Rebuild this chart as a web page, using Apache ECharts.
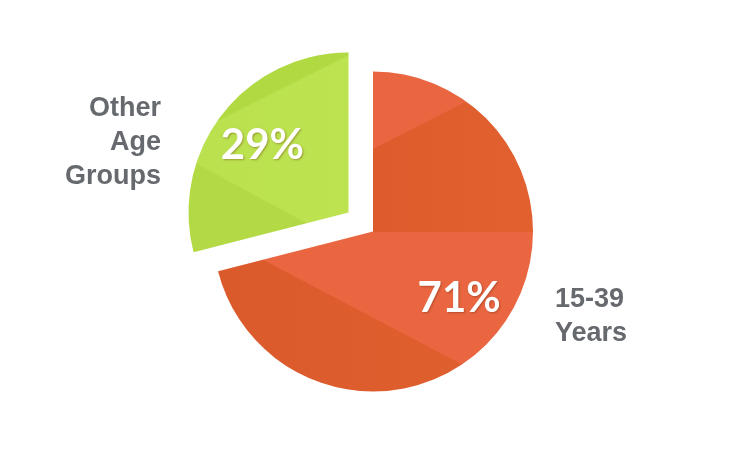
<!DOCTYPE html>
<html>
<head>
<meta charset="utf-8">
<script src="https://cdn.jsdelivr.net/npm/echarts@6/dist/echarts.min.js"></script>
<style>
html,body{margin:0;padding:0;background:#fff;}
#chart{width:748px;height:453px;}
</style>
</head>
<body>
<div id="chart"></div>
<script>
// ---- data ----
var categories = ['15-39\nYears', 'Other\nAge\nGroups'];
var values = [71, 29];
var selectedFlags = [false, true];

// ---- faceted textures (visual shading only) ----
function facetTexture(fx, fy, wedges, base) {
  var c = document.createElement('canvas');
  c.width = 748; c.height = 453;
  var g = c.getContext('2d');
  g.fillStyle = base;
  g.fillRect(0, 0, c.width, c.height);
  var R = 3000;
  wedges.forEach(function (w) {
    var a1 = w[0] * Math.PI / 180, a2 = w[1] * Math.PI / 180;
    g.beginPath();
    g.moveTo(fx, fy);
    var steps = 24;
    for (var i = 0; i <= steps; i++) {
      var a = a1 + (a2 - a1) * i / steps;
      g.lineTo(fx + R * Math.cos(a), fy + R * Math.sin(a));
    }
    g.closePath();
    if (w[3]) {
      var lg = g.createLinearGradient(fx, fy, fx + 330, fy);
      lg.addColorStop(0, w[2]);
      lg.addColorStop(1, w[3]);
      g.fillStyle = lg;
    } else {
      g.fillStyle = w[2];
    }
    g.fill();
  });
  return c;
}

var orangeTex = facetTexture(210, 232, [
  [-27, 0, '#D8562A', '#E2612F'],
  [27.7, 200, '#DB5A2C', '#E0602F']
], '#E96641');

var greenTex = facetTexture(190, 166, [
  [-180, -26.6, '#B1D941'],
  [-26.6, 28.4, '#BAE14D', '#BFE453'],
  [28.4, 180, '#B3DA45']
], '#BAE14C');

var textures = [orangeTex, greenTex];

var mainData = categories.map(function (n, i) {
  return {
    name: n,
    value: values[i],
    selected: selectedFlags[i],
    itemStyle: { color: { image: textures[i], repeat: 'no-repeat' } }
  };
});
var labelData = categories.map(function (n, i) {
  return { name: n, value: values[i], selected: selectedFlags[i] };
});

var nameFont = 'bold 27px Arial, "Liberation Sans", sans-serif';

var chart = echarts.init(document.getElementById('chart'));
chart.setOption({
  animation: false,
  backgroundColor: '#ffffff',
  graphic: [
    {
      type: 'text', x: 555, y: 317, silent: true,
      style: {
        text: categories[0], fill: '#66696E', font: nameFont,
        lineHeight: 34, align: 'left', verticalAlign: 'middle'
      }
    },
    {
      type: 'text', x: 161, y: 143, silent: true,
      style: {
        text: categories[1], fill: '#66696E', font: nameFont,
        lineHeight: 34, align: 'right', verticalAlign: 'middle'
      }
    }
  ],
  series: [
    {
      type: 'pie',
      center: [373, 231.5],
      radius: [0, 160],
      startAngle: 90,
      clockwise: true,
      selectedMode: 'single',
      selectedOffset: 31,
      avoidLabelOverlap: false,
      silent: true,
      itemStyle: { borderWidth: 0 },
      emphasis: { disabled: true },
      label: { show: false },
      labelLine: { show: false },
      data: mainData
    },
    {
      type: 'pie',
      center: [373, 231.5],
      radius: [0, 212],
      startAngle: 90,
      clockwise: true,
      selectedMode: 'single',
      selectedOffset: 31,
      avoidLabelOverlap: false,
      silent: true,
      itemStyle: { color: 'rgba(0,0,0,0)', borderWidth: 0 },
      emphasis: { disabled: true },
      label: {
        show: true,
        position: 'inside',
        formatter: function (p) { return p.value + '%'; },
        color: '#ffffff',
        fontFamily: 'Lato, Open Sans, sans-serif',
        fontWeight: 'bold',
        fontSize: 42,
        textShadowColor: 'rgba(90,30,0,0.35)',
        textShadowBlur: 2,
        textShadowOffsetX: 1,
        textShadowOffsetY: 1
      },
      labelLine: { show: false },
      data: labelData
    }
  ]
});
</script>
</body>
</html>
